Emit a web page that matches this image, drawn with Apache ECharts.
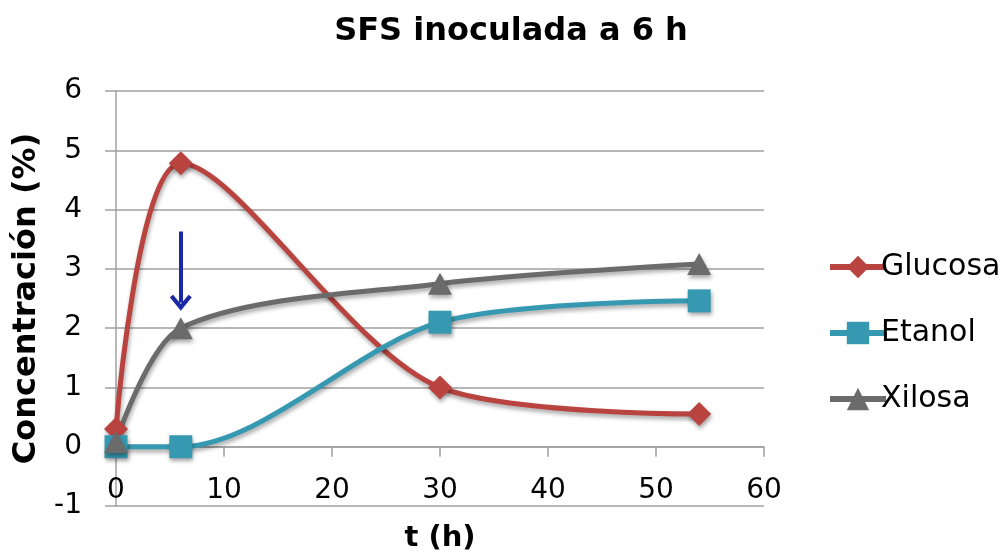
<!DOCTYPE html>
<html>
<head>
<meta charset="utf-8">
<script src="https://cdn.jsdelivr.net/npm/echarts@6/dist/echarts.min.js"></script>
<style>
  html, body { margin: 0; padding: 0; background: #ffffff; }
  #chart { width: 1008px; height: 555px; }
</style>
</head>
<body>
<div id="chart"></div>
<script>
// Sampling times (h) and concentrations (%) for each compound
const times = [0, 6, 30, 54];
const glucosa = [0.3, 4.78, 1.0, 0.55];
const etanol = [0.0, 0.0, 2.1, 2.46];
const xilosa = [0.08, 2.0, 2.75, 3.08];

// Inoculation marker at t = 6 h (start and end concentration of the arrow)
const inoculationTime = 6;
const arrowFrom = 3.63;
const arrowTo = 2.43;

const FONT = '"DejaVu Sans"';
const pairs = ys => times.map((t, i) => [t, ys[i]]);

const shadow = {
  shadowColor: 'rgba(0,0,0,0.35)',
  shadowBlur: 4,
  shadowOffsetX: 1,
  shadowOffsetY: 3
};

function lineSeries(name, data, color, symbol, size) {
  return {
    name: name,
    type: 'line',
    data: pairs(data),
    smooth: 0.3,
    symbol: symbol,
    symbolSize: size,
    showAllSymbol: true,
    lineStyle: Object.assign({ color: color, width: 5 }, shadow),
    itemStyle: Object.assign({ color: color }, shadow),
    emphasis: { disabled: true }
  };
}

const chevron = 'path://M0,10 L10,0 L20,10 L17,12 L10,5 L3,12 Z';

const glucosaSeries = lineSeries('Glucosa', glucosa, '#b9443f', 'diamond', [24, 24]);
glucosaSeries.markLine = {
  silent: true,
  symbol: ['none', chevron],
  symbolSize: [22, 16],
  label: { show: false },
  lineStyle: { color: '#1a28a6', width: 4, type: 'solid' },
  data: [[
    { coord: [inoculationTime, arrowFrom] },
    { coord: [inoculationTime, arrowTo] }
  ]]
};

const option = {
  backgroundColor: '#ffffff',
  animation: false,
  title: {
    text: 'SFS inoculada a 6 h',
    left: 506,
    top: 11,
    textAlign: 'center',
    textStyle: { fontFamily: FONT, fontSize: 32, fontWeight: 'bold', color: '#000' }
  },
  grid: { left: 116, right: 244, top: 91, bottom: 49, outerBoundsMode: 'none' },
  legend: {
    orient: 'vertical',
    left: 822,
    top: 247,
    itemWidth: 56,
    itemHeight: 28,
    itemGap: 36,
    lineStyle: { width: 6 },
    textStyle: { fontFamily: FONT, fontSize: 30, color: '#000', padding: [0, 0, 0, -10] },
    data: ['Glucosa', 'Etanol', 'Xilosa']
  },
  xAxis: {
    type: 'value',
    min: 0,
    max: 60,
    interval: 10,
    name: 't (h)',
    nameLocation: 'middle',
    nameGap: 18,
    nameTextStyle: { fontFamily: FONT, fontSize: 29, fontWeight: 'bold', color: '#000' },
    axisLine: { onZero: true, lineStyle: { color: '#a0a0a0', width: 1.5 } },
    axisTick: { show: true, length: 10, lineStyle: { color: '#a0a0a0', width: 1.5 } },
    axisLabel: { margin: -29, fontFamily: FONT, fontSize: 28, color: '#000' },
    splitLine: { show: false }
  },
  yAxis: {
    type: 'value',
    min: -1,
    max: 6,
    interval: 1,
    name: 'Concentración (%)',
    nameLocation: 'middle',
    nameGap: 73,
    nameTextStyle: { fontFamily: FONT, fontSize: 32, fontWeight: 'bold', color: '#000' },
    axisLine: { show: true, lineStyle: { color: '#a0a0a0', width: 1.5 } },
    axisTick: { show: true, length: 11, lineStyle: { color: '#a0a0a0', width: 1.5 } },
    axisLabel: { margin: 34, fontFamily: FONT, fontSize: 28, color: '#000' },
    splitLine: { show: true, lineStyle: { color: '#a0a0a0', width: 1.5 } }
  },
  series: [
    glucosaSeries,
    lineSeries('Etanol', etanol, '#3799b1', 'rect', [23, 23]),
    lineSeries('Xilosa', xilosa, '#6b6b6b', 'triangle', [24, 22])
  ]
};

const chart = echarts.init(document.getElementById('chart'), null, { renderer: 'canvas' });
chart.setOption(option);
</script>
</body>
</html>
